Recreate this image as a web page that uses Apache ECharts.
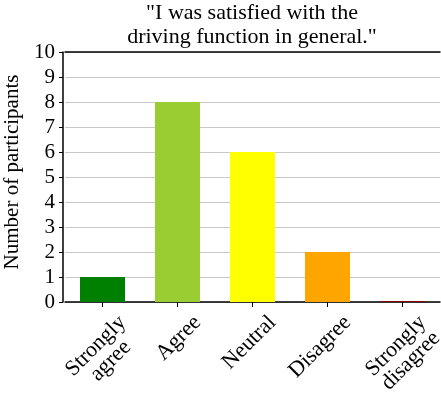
<!DOCTYPE html>
<html><head><meta charset="utf-8">
<script src="https://cdn.jsdelivr.net/npm/echarts@6/dist/echarts.min.js"></script>
<style>html,body{margin:0;padding:0;background:#fff}#c{width:441px;height:393px}</style>
</head><body><div id="c"></div>
<script>
const titleLines = ['"I was satisfied with the', 'driving function in general."'];
const categories = ['Strongly\nagree', 'Agree', 'Neutral', 'Disagree', 'Strongly\ndisagree'];
const values = [1, 8, 6, 2, 0];
const colors = ['#008000', '#9acd32', '#ffff00', '#ffa500', '#8b0000'];
const yName = 'Number of participants';
const yTicks = [0, 1, 2, 3, 4, 5, 6, 7, 8, 9, 10];

const font = 'Liberation Serif';
const chart = echarts.init(document.getElementById('c'), null, {renderer: 'canvas'});
chart.setOption({
  animation: false,
  title: {
    text: titleLines.join('\n'),
    left: 252, top: 1, padding: 0, textAlign: 'center',
    textStyle: {fontFamily: font, fontSize: 22, fontWeight: 'normal', color: '#000', lineHeight: 24}
  },
  grid: {left: 65, right: 1, top: 52, bottom: 91, containLabel: false, outerBoundsMode: 'none'},
  xAxis: [{
    type: 'category', data: categories,
    axisLine: {lineStyle: {color: '#000', width: 1.5}},
    axisTick: {show: true, alignWithLabel: true, length: 5, lineStyle: {color: '#000'}},
    axisLabel: {
      interval: 0, rotate: 45, margin: -10, align: 'right', verticalAlign: 'top',
      padding: [23, 5, 0, 0],
      color: '#000', fontFamily: font, fontSize: 22,
      formatter: v => v.split('\n').map(s => '{c|' + s + '}').join('\n'),
      rich: {c: {align: 'center', fontFamily: font, fontSize: 22, color: '#000', lineHeight: 21}}
    }
  }, {
    type: 'category', data: categories, position: 'top',
    axisLine: {show: true, lineStyle: {color: '#000', width: 1.5}},
    axisTick: {show: false}, axisLabel: {show: false}
  }],
  yAxis: {
    type: 'value', min: 0, max: 10, interval: 1, offset: 2,
    name: yName, nameLocation: 'middle', nameGap: 30,
    nameTextStyle: {fontFamily: font, fontSize: 21, color: '#000', padding: [0, 0, 0, 10]},
    axisLine: {show: true, lineStyle: {color: '#000', width: 1.5}},
    axisTick: {show: true, length: 4, lineStyle: {color: '#000'}},
    axisLabel: {color: '#000', fontFamily: font, fontSize: 21, margin: 8,
      formatter: v => yTicks.includes(v) ? String(v) : ''},
    splitLine: {lineStyle: {color: '#c8c8c8', width: 1.2}}
  },
  series: [{
    type: 'bar', data: values.map((v, i) => ({value: v, itemStyle: {color: colors[i]}})),
    barWidth: 45, barMinHeight: 1
  }]
});
</script></body></html>
